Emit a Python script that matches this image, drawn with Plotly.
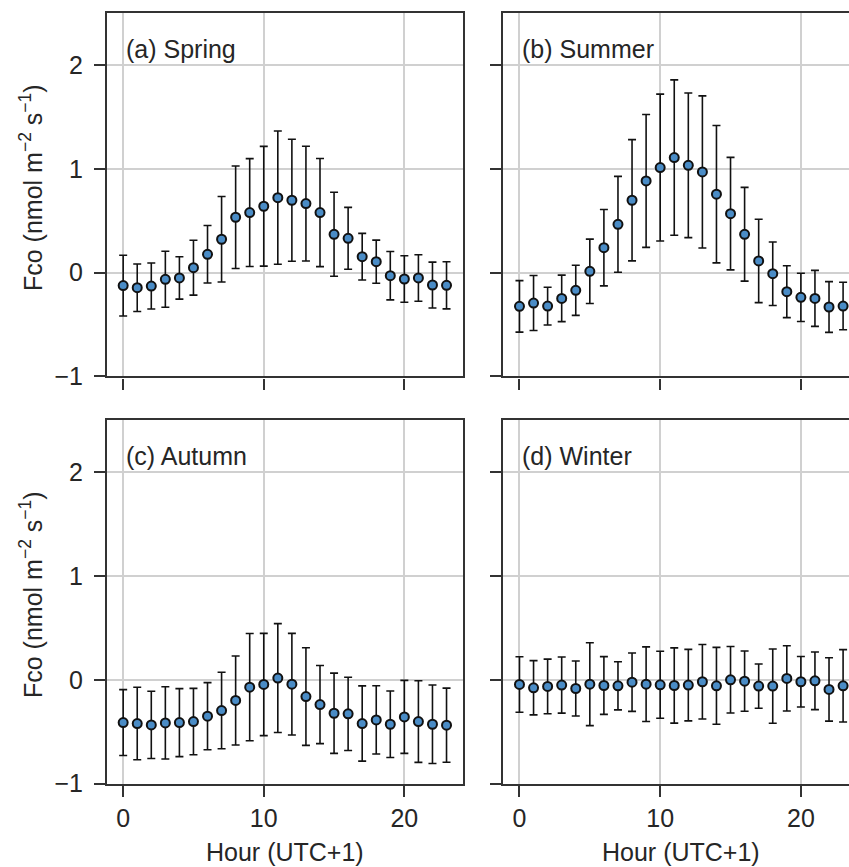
import plotly.graph_objects as go

hours = list(range(24))

spring_mean = [-0.125, -0.145, -0.129, -0.064, -0.051, 0.048, 0.177, 0.322, 0.534, 0.579, 0.640, 0.723,
               0.698, 0.666, 0.579, 0.370, 0.331, 0.154, 0.106, -0.029, -0.061, -0.051, -0.119, -0.122]
spring_std = [0.293, 0.229, 0.222, 0.270, 0.204, 0.265, 0.277, 0.412, 0.494, 0.520, 0.577, 0.642,
              0.588, 0.553, 0.521, 0.405, 0.298, 0.225, 0.208, 0.233, 0.224, 0.224, 0.221, 0.227]

summer_mean = [-0.325, -0.293, -0.322, -0.248, -0.170, 0.013, 0.241, 0.466, 0.698, 0.884, 1.013, 1.109,
               1.035, 0.971, 0.756, 0.569, 0.370, 0.113, -0.010, -0.183, -0.238, -0.248, -0.331, -0.322]
summer_std = [0.248, 0.265, 0.182, 0.224, 0.242, 0.310, 0.368, 0.462, 0.584, 0.640, 0.708, 0.749,
              0.697, 0.733, 0.662, 0.542, 0.452, 0.402, 0.306, 0.250, 0.233, 0.270, 0.245, 0.229]

autumn_mean = [-0.412, -0.421, -0.434, -0.415, -0.412, -0.402, -0.350, -0.296, -0.199, -0.071, -0.045, 0.016,
               -0.042, -0.161, -0.238, -0.322, -0.328, -0.421, -0.386, -0.428, -0.357, -0.402, -0.428, -0.437]
autumn_std = [0.317, 0.349, 0.323, 0.348, 0.327, 0.319, 0.323, 0.368, 0.428, 0.516, 0.492, 0.524,
              0.489, 0.470, 0.376, 0.386, 0.352, 0.362, 0.328, 0.320, 0.351, 0.393, 0.378, 0.357]

winter_mean = [-0.045, -0.077, -0.064, -0.051, -0.084, -0.042, -0.055, -0.058, -0.023, -0.042, -0.048, -0.055,
               -0.051, -0.019, -0.058, 0.000, -0.013, -0.061, -0.061, 0.013, -0.019, -0.010, -0.093, -0.058]
winter_std = [0.267, 0.261, 0.263, 0.270, 0.265, 0.399, 0.278, 0.232, 0.281, 0.359, 0.322, 0.362,
              0.344, 0.359, 0.370, 0.320, 0.290, 0.213, 0.357, 0.314, 0.243, 0.277, 0.305, 0.348]

panel_titles = ["(a) Spring", "(b) Summer", "(c) Autumn", "(d) Winter"]
x_ticks = [0, 10, 20]
y_ticks = [-1, 0, 1, 2]
x_title = "Hour (UTC+1)"
y_title = "Fco (nmol m<sup>\u22122</sup> s<sup>\u22121</sup>)"

W, H = 849, 867
FONT = "Liberation Sans, Arial, sans-serif"
TXT = "#262626"
FS = 25

series = [(spring_mean, spring_std), (summer_mean, summer_std),
          (autumn_mean, autumn_std), (winter_mean, winter_std)]

fig = go.Figure()
for i, (m, s) in enumerate(series):
    sfx = "" if i == 0 else str(i + 1)
    fig.add_trace(go.Scatter(
        x=hours, y=m, mode="markers",
        xaxis="x" + sfx, yaxis="y" + sfx,
        marker=dict(size=9, color="#4a8cc6", line=dict(color="#111111", width=2)),
        error_y=dict(type="data", array=s, visible=True, color="#111111",
                     thickness=1.6, width=4),
        showlegend=False, cliponaxis=False,
    ))

left_dom = [107 / W, 462.7 / W]
right_dom = [503.3 / W, 1.0]
top_dom = [1 - 376.4 / H, 1 - 13.3 / H]
bot_dom = [1 - 783.7 / H, 1 - 420 / H]

common_axis = dict(
    showline=True, linecolor="#333333", linewidth=2.2,
    ticks="outside", ticklen=11, tickwidth=2, tickcolor="#333333",
    showgrid=True, gridcolor="#d0d0d0", gridwidth=1.6,
    zeroline=False,
    tickfont=dict(family=FONT, size=FS, color=TXT),
)

layout = dict(
    width=W, height=H,
    margin=dict(l=0, r=0, t=0, b=0, autoexpand=False),
    paper_bgcolor="white", plot_bgcolor="white",
    font=dict(family=FONT, size=FS, color=TXT),
    showlegend=False,
)

for i in range(4):
    sfx = "" if i == 0 else str(i + 1)
    is_right = i % 2 == 1
    is_bottom = i >= 2
    xr = [-1.15, 23.42] if is_right else [-1.15, 24.15]
    xa = dict(common_axis, domain=right_dom if is_right else left_dom, range=xr,
              tickvals=x_ticks, showticklabels=is_bottom, mirror=True,
              anchor="y" + sfx, automargin=False)
    ya = dict(common_axis, domain=bot_dom if is_bottom else top_dom, range=[-1, 2.5],
              tickvals=y_ticks, showticklabels=not is_right, mirror=not is_right,
              anchor="x" + sfx, ticklabelstandoff=6, automargin=False)
    layout["xaxis" + sfx] = xa
    layout["yaxis" + sfx] = ya

fig.update_layout(**layout)

annotations = []
title_pos = [(124, 49), (520, 49), (124, 456), (520, 456)]
for t, (px, py) in zip(panel_titles, title_pos):
    annotations.append(dict(text=t, x=px / W, y=1 - py / H, xref="paper", yref="paper",
                            xanchor="left", yanchor="middle", showarrow=False,
                            font=dict(family=FONT, size=FS, color=TXT)))
for cx in [285, 681]:
    annotations.append(dict(text=x_title, x=cx / W, y=1 - 852 / H, xref="paper", yref="paper",
                            xanchor="center", yanchor="middle", showarrow=False,
                            font=dict(family=FONT, size=FS, color=TXT)))
for cy in [188, 595]:
    annotations.append(dict(text=y_title, x=31 / W, y=1 - cy / H, xref="paper", yref="paper",
                            xanchor="center", yanchor="middle", showarrow=False, textangle=-90,
                            font=dict(family=FONT, size=FS, color=TXT)))
fig.update_layout(annotations=annotations)

fig.write_html("out.html", config={"displayModeBar": False},
               post_script="document.body.style.margin='0';document.body.style.overflow='hidden';")
